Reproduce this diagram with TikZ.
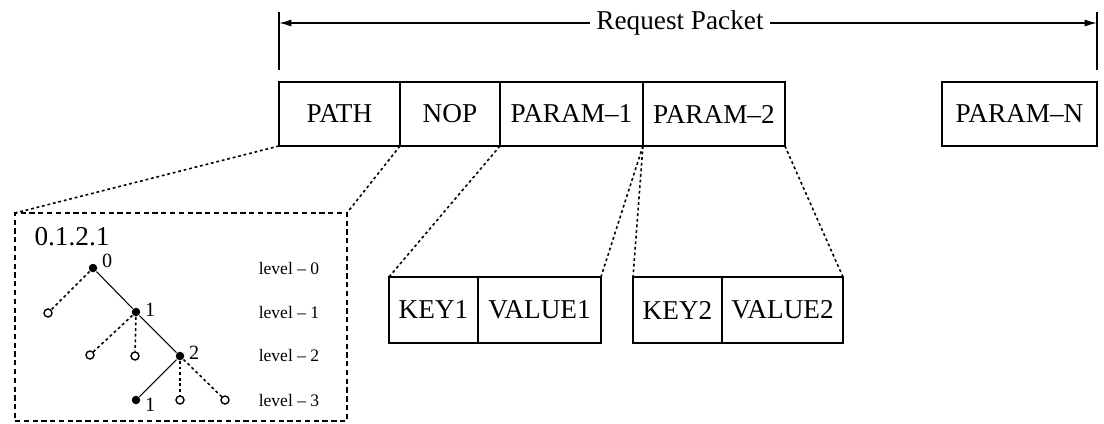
\documentclass[tikz,border=0pt]{standalone}
\usepackage{fontspec}
\setmainfont{Liberation Serif}
\usetikzlibrary{positioning,arrows.meta}

\tikzset{
  cell/.style={draw, inner sep=0pt, outer sep=0pt, minimum height=1.28cm,
    font=\fontsize{15.5}{18}\selectfont},
  kvcell/.style={cell, minimum height=1.32cm},
  zoomline/.style={dash pattern=on 1.6pt off 1.6pt, line width=0.9pt},
  inset/.style={draw, dash pattern=on 3pt off 2pt, inner sep=0pt, outer sep=0pt},
  dot/.style={circle, fill, inner sep=0pt, minimum size=0.17cm},
  hole/.style={circle, draw, inner sep=0pt, minimum size=0.16cm, line width=0.8pt},
  lbl/.style={font=\fontsize{11.5}{13}\selectfont, inner sep=2pt},
  lvl/.style={font=\fontsize{10}{12}\selectfont},
}

\begin{document}
\begin{tikzpicture}[x=0.02cm, y=-0.02cm, line width=0.8pt]
  \useasboundingbox (0,0) rectangle (1104,423);

  % Packet fields
  \node[cell, minimum width=2.42cm, anchor=north west] (path) at (279,82) {PATH};
  \node[cell, minimum width=2cm, right=0pt of path] (nop) {NOP};
  \node[cell, minimum width=2.86cm, right=0pt of nop] (p1) {PARAM--1};
  \node[cell, minimum width=2.84cm, right=0pt of p1] (p2) {PARAM--2};
  \node[cell, minimum width=3.1cm, anchor=north west] (pn) at (942,82) {PARAM--N};

  % Span of the whole packet
  \node[font=\fontsize{15.5}{18}\selectfont] (title) at (680,23) {Request Packet};
  \coordinate (lt) at (279,23);
  \coordinate (rt) at (1097,23);
  \draw (279,12) -- (279,70);
  \draw (1097,12) -- (1097,70);
  \draw[-{Latex[length=7pt,width=4pt]}] (title.west) -- (lt);
  \draw[-{Latex[length=7pt,width=4pt]}] (title.east) -- (rt);

  % Key / value pairs
  \node[kvcell, minimum width=1.78cm, anchor=north west] (key1) at (389,277) {KEY1};
  \node[kvcell, minimum width=2.46cm, right=0pt of key1] (val1) {VALUE1};
  \node[kvcell, minimum width=1.78cm, anchor=north west] (key2) at (633,277) {KEY2};
  \node[kvcell, minimum width=2.42cm, right=0pt of key2] (val2) {VALUE2};

  % Path inset
  \node[inset, minimum width=6.64cm, minimum height=4.16cm, anchor=north west] (box) at (15,213) {};
  \node[font=\fontsize{15.5}{18}\selectfont] (pathid) at (72,237) {0.1.2.1};

  % Zoom lines
  \draw[zoomline] (path.south west) -- (box.north west);
  \draw[zoomline] (path.south east) -- (box.north east);
  \draw[zoomline] (nop.south east) -- (key1.north west);
  \draw[zoomline] (p1.south east) -- (val1.north east);
  \draw[zoomline] (p1.south east) -- (key2.north west);
  \draw[zoomline] (p2.south east) -- (val2.north east);

  % Tree
  \node[dot, label={[lbl, yshift=4pt]right:0}] (t0) at (93,268) {};
  \node[dot, label={[lbl, yshift=1pt]right:1}] (t1) at (136,312) {};
  \node[dot, label={[lbl, yshift=2pt]right:2}] (t2) at (180,356) {};
  \node[dot, label={[lbl, yshift=-3pt]right:1}] (t3) at (136,400) {};
  \node[hole] (h0) at (48,313) {};
  \node[hole] (h1) at (90,355) {};
  \node[hole] (h2) at (135,356) {};
  \node[hole] (h3) at (180,400) {};
  \node[hole] (h4) at (225,400) {};

  \draw[line width=0.6pt] (t0) -- (t1) -- (t2) -- (t3);
  \draw[zoomline] (t0) -- (h0);
  \draw[zoomline] (t1) -- (h1);
  \draw[zoomline] (t1) -- (h2);
  \draw[zoomline] (t2) -- (h3);
  \draw[zoomline] (t2) -- (h4);

  % Levels
  \foreach \l/\y in {0/268,1/312,2/355,3/400} {
    \node[lvl] (lv\l) at (289,\y) {level -- \l};
  }
\end{tikzpicture}
\end{document}
